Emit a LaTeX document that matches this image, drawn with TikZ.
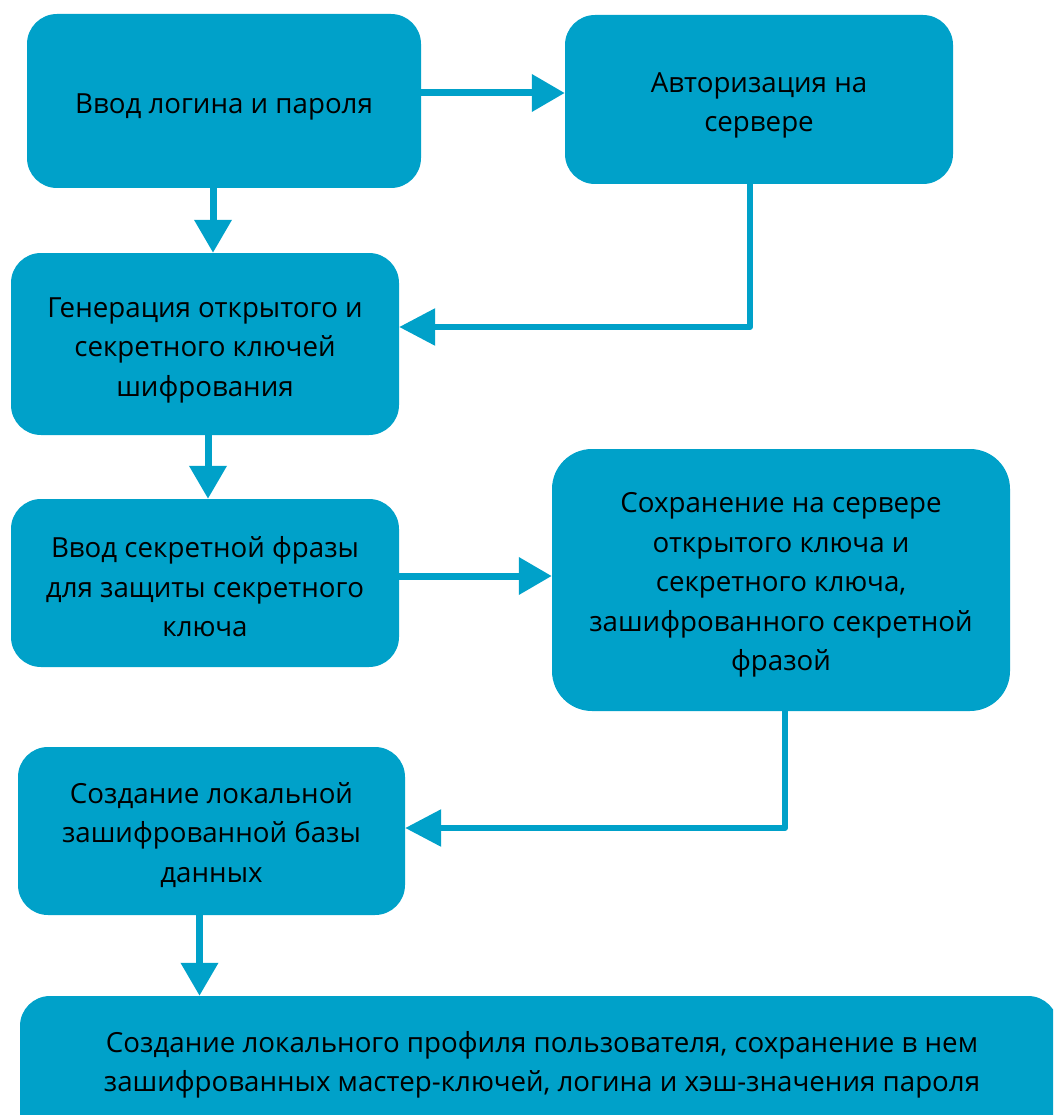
\documentclass[tikz,border=0pt]{standalone}
\usepackage{fontspec}
\setmainfont{Open Sans}
\usetikzlibrary{arrows.meta}
\definecolor{boxblue}{RGB}{0,161,201}
\tikzset{
  txt/.style={font=\fontsize{27.7pt}{39.5pt}\selectfont, align=center, text=black, inner sep=0pt},
  box/.style={draw=none, fill=boxblue, rounded corners=30pt, inner sep=0pt},
  arr/.style={draw=boxblue, line width=7pt, -{Triangle[width=36pt,length=33pt]}},
  elb/.style={draw=boxblue, line width=6pt, line join=round, line cap=round, -{Triangle[width=36pt,length=36pt]}}
}
\begin{document}
\begin{tikzpicture}[x=1pt,y=-1pt]
\useasboundingbox (0,0) rectangle (1053,1115);
\begin{scope}
\clip (0,0) rectangle (1053,1115);
\node[box, minimum width=394pt, minimum height=174pt] (A) at (224,101) {};
\node[box, minimum width=388pt, minimum height=169pt] (B) at (759,99.5) {};
\node[box, minimum width=388pt, minimum height=182pt] (C) at (205,344) {};
\node[box, minimum width=388pt, minimum height=168pt] (D) at (205,583) {};
\node[box, rounded corners=40pt, minimum width=458pt, minimum height=262pt] (E) at (781,580) {};
\node[box, minimum width=387pt, minimum height=168pt] (F) at (211.5,831) {};
\node[box, minimum width=1038pt, minimum height=150pt] (G) at (539,1071) {};
\end{scope}
\node[txt] (At) at (224,107) {Ввод логина и пароля};
\node[txt] (Bt) at (759,105.5) {Авторизация на\\сервере};
\node[txt] (Ct) at (205,350) {Генерация открытого и\\секретного ключей\\шифрования};
\node[txt] (Dt) at (205,587) {Ввод секретной фразы\\для защиты секретного\\ключа};
\node[txt] (Et) at (781,585) {Сохранение на сервере\\открытого ключа и\\секретного ключа,\\зашифрованного секретной\\фразой};
\node[txt] (Ft) at (211.5,835) {Создание локальной\\зашифрованной базы\\данных};
\node[txt] (Gt) at (542,1065) {Создание локального профиля пользователя, сохранение в нем\\зашифрованных мастер-ключей, логина и хэш-значения пароля};
\draw[arr] ([yshift=8pt]A.east) -- ([yshift=8pt]A.east -| B.west);
\draw[arr] ([xshift=-11pt]A.south) -- ([xshift=-11pt]A.south |- C.north);
\draw[elb] ([xshift=-9pt]B.south) |- ([yshift=17pt]C.east);
\draw[arr] ([xshift=3pt]C.south) -- ([xshift=3pt]C.south |- D.north);
\draw[arr] ([yshift=7pt]D.east) -- ([yshift=7pt]D.east -| E.west);
\draw[elb] ([xshift=4pt]E.south) |- ([yshift=3pt]F.east);
\draw[arr] ([xshift=-12pt]F.south) -- ([xshift=-12pt]F.south |- G.north);
\end{tikzpicture}
\end{document}
